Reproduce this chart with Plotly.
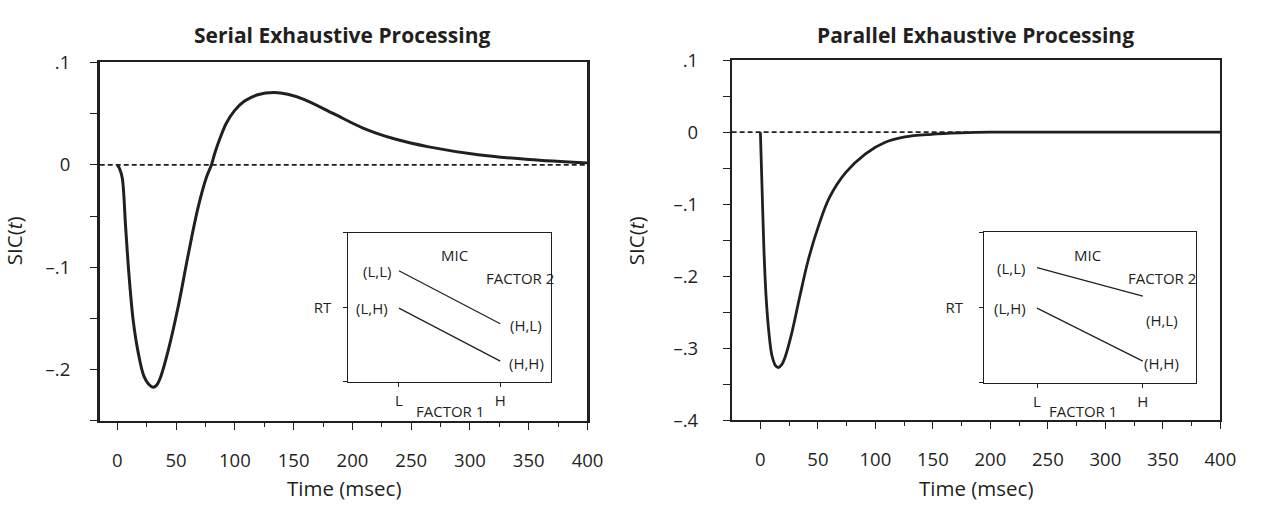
import plotly.graph_objects as go

# ---------------- data ----------------
serial_t = [0, 2, 4.2, 7, 9.8, 13.5, 17.7, 22.5, 26.5, 30.3, 33.5, 36.5, 43.5, 52, 60.4, 68.8,
            75.8, 80, 82.9, 87.1, 92.7, 99.7, 108.2, 119.4, 133.4, 145, 158.7, 184, 209, 237, 265,
            307, 350, 400]
serial_sic = [0, -0.004, -0.013, -0.060, -0.106, -0.152, -0.183, -0.206, -0.214, -0.217, -0.215,
              -0.208, -0.180, -0.137, -0.087, -0.041, -0.012, 0.0, 0.0114, 0.0253, 0.0407, 0.053,
              0.0623, 0.0685, 0.0707, 0.069, 0.064, 0.050, 0.036, 0.025, 0.0176, 0.0099, 0.0053,
              0.002]

parallel_t = [0, 1.5, 3, 5, 7.5, 10, 13, 15.7, 18.5, 21.4, 27, 34.3, 41.4, 50, 60, 74.3, 91.4,
              108.6, 125.7, 148.6, 174, 200, 250, 300, 350, 400]
parallel_sic = [0, -0.08, -0.16, -0.23, -0.28, -0.31, -0.324, -0.327, -0.323, -0.313, -0.281,
                -0.228, -0.179, -0.133, -0.091, -0.056, -0.030, -0.014, -0.0066, -0.003,
                -0.001, 0, 0, 0, 0, 0]

x_ticks = [0, 50, 100, 150, 200, 250, 300, 350, 400]
x_minor = [25, 75, 125, 175, 225, 275, 325, 375]
serial_yticks = [0.1, 0, -0.1, -0.2]
serial_ylabels = [".1", "0", "–.1", "–.2"]
serial_yminor = [0.05, -0.05, -0.15, -0.25]
parallel_yticks = [0.1, 0, -0.1, -0.2, -0.3, -0.4]
parallel_ylabels = [".1", "0", "–.1", "–.2", "–.3", "–.4"]
parallel_yminor = [0.05, -0.05, -0.15, -0.25, -0.35]

# inset interaction-contrast schematics (factor-1 level L=1, H=2; RT arbitrary units)
factor1_levels = [1, 2]
factor1_labels = ["L", "H"]
serial_rt_f2_low = [7.45, 3.9]
serial_rt_f2_high = [4.95, 1.4]
parallel_rt_f2_low = [7.64, 5.74]
parallel_rt_f2_high = [4.95, 1.43]

INK = "#231f20"
FONT = "Open Sans"

fig = go.Figure()

fig.add_trace(go.Scatter(x=serial_t, y=serial_sic, mode="lines",
                         line=dict(color=INK, width=3, shape="spline", smoothing=1.0),
                         xaxis="x", yaxis="y", showlegend=False))
fig.add_trace(go.Scatter(x=parallel_t, y=parallel_sic, mode="lines",
                         line=dict(color=INK, width=2.8, shape="spline", smoothing=1.0),
                         xaxis="x2", yaxis="y2", showlegend=False))

for ys, xa, ya in [(serial_rt_f2_low, "x3", "y3"), (serial_rt_f2_high, "x3", "y3"),
                   (parallel_rt_f2_low, "x4", "y4"), (parallel_rt_f2_high, "x4", "y4")]:
    fig.add_trace(go.Scatter(x=factor1_levels, y=ys, mode="lines", line=dict(color=INK, width=1.2),
                             xaxis=xa, yaxis=ya, showlegend=False))

# dashed zero reference lines
for xr, yr in [("x", "y"), ("x2", "y2")]:
    fig.add_shape(type="line", xref=f"{xr} domain", yref=yr, x0=0, x1=1, y0=0, y1=0,
                  line=dict(color=INK, width=1.6, dash="5px,3px"), layer="below")


def main_xaxis(domain, rng, anchor, lw):
    return dict(domain=domain, range=rng, anchor=anchor, tickmode="array", tickvals=x_ticks,
                ticks="outside", ticklen=7, tickwidth=1.2, tickcolor=INK, showline=True, mirror=True,
                linecolor=INK, linewidth=lw, showgrid=False, zeroline=False, ticklabelstandoff=15,
                tickfont=dict(size=18.5, color=INK, family=FONT),
                minor=dict(tickmode="array", tickvals=x_minor, ticks="outside", ticklen=4, tickwidth=1.2,
                           tickcolor=INK, showgrid=False))


def main_yaxis(domain, rng, anchor, lw, vals, labels, minor, standoff):
    return dict(domain=domain, range=rng, anchor=anchor, tickmode="array", tickvals=vals, ticktext=labels,
                ticks="outside", ticklen=7, tickwidth=1.2, tickcolor=INK, showline=True, mirror=True,
                linecolor=INK, linewidth=lw, showgrid=False, zeroline=False, ticklabelstandoff=standoff,
                tickfont=dict(size=18.5, color=INK, family=FONT),
                minor=dict(tickmode="array", tickvals=minor, ticks="outside", ticklen=7, tickwidth=1.2,
                           tickcolor=INK, showgrid=False))


def inset_xaxis(domain, anchor):
    return dict(domain=domain, range=[0.5, 2.5], anchor=anchor, tickmode="array", tickvals=factor1_levels,
                ticktext=factor1_labels, ticks="outside", ticklen=4, tickwidth=1, tickcolor=INK,
                showline=True, mirror=True, linecolor=INK, linewidth=1, showgrid=False, zeroline=False,
                ticklabelstandoff=1, tickfont=dict(size=15, color=INK, family=FONT))


def inset_yaxis(domain, anchor, standoff):
    return dict(domain=domain, range=[0, 10], anchor=anchor, tickmode="array", tickvals=[0, 5, 10],
                ticktext=["", "RT", ""], ticks="outside", ticklen=4, tickwidth=1, tickcolor=INK,
                showline=True, mirror=True, linecolor=INK, linewidth=1, showgrid=False, zeroline=False,
                ticklabelstandoff=standoff, tickfont=dict(size=15, color=INK, family=FONT))


W, H = 1267, 509
fig.update_layout(
    width=W, height=H, autosize=False, margin=dict(l=0, r=0, t=0, b=0),
    paper_bgcolor="white", plot_bgcolor="rgba(0,0,0,0)",
    font=dict(family=FONT, color=INK),
    xaxis=main_xaxis([101 / W, 595 / W], [-15, 400], "y", 2),
    yaxis=main_yaxis([1 - 428 / H, 1 - 51 / H], [-0.25, 0.1], "x", 2.6, serial_yticks, serial_ylabels, serial_yminor, 16),
    xaxis2=main_xaxis([741 / W, 1236 / W], [-25, 400], "y2", 1.5),
    yaxis2=main_yaxis([1 - 427 / H, 1 - 48.6 / H], [-0.4, 0.1], "x2", 1.5, parallel_yticks, parallel_ylabels, parallel_yminor, 21),
    xaxis3=inset_xaxis([352.7 / W, 558 / W], "y3"),
    yaxis3=inset_yaxis([1 - 387 / H, 1 - 230 / H], "x3", 9),
    xaxis4=inset_xaxis([996.7 / W, 1211 / W], "y4"),
    yaxis4=inset_yaxis([1 - 387.7 / H, 1 - 229.3 / H], "x4", 13),
)

ann = []


def paper_text(text, px, py, size, angle=0):
    return dict(text=text, x=px / W, y=1 - py / H, xref="paper", yref="paper", xanchor="center",
                yanchor="middle", textangle=angle, showarrow=False,
                font=dict(size=size, family=FONT, color=INK))


# panel titles
ann.append(paper_text("<b>Serial Exhaustive Processing</b>", 346, 22, 21))
ann.append(paper_text("<b>Parallel Exhaustive Processing</b>", 988, 22, 21))
# axis titles
for cx in [348, 988]:
    ann.append(paper_text("Time (msec)", cx, 498, 20.5))
for cx in [14, 644]:
    ann.append(paper_text("SIC(<i>t</i>)", cx, 238, 20.5, -90))
# FACTOR 1 labels under insets
for cx in [455.5, 1097]:
    ann.append(paper_text("FACTOR 1", cx, 418, 15))

# inset labels (inset data coordinates)
inset_labels = {
    ("x3", "y3"): [("MIC", 1.545, 8.54), ("(L,L)", 0.783, 7.45), ("(L,H)", 0.734, 4.97),
                   ("FACTOR 2", 2.19, 6.94), ("(H,L)", 2.256, 3.84), ("(H,H)", 2.256, 1.29)],
    ("x4", "y4"): [("MIC", 1.48, 8.5), ("(L,L)", 0.755, 7.64), ("(L,H)", 0.743, 4.95),
                   ("FACTOR 2", 2.18, 6.93), ("(H,L)", 2.18, 4.17), ("(H,H)", 2.18, 1.33)],
}
for (xr, yr), items in inset_labels.items():
    for txt, x, y in items:
        ann.append(dict(text=txt, x=x, y=y, xref=xr, yref=yr, showarrow=False, xanchor="center",
                        yanchor="middle", font=dict(size=15, family=FONT, color=INK)))

fig.update_layout(annotations=ann)

fig.write_html("out.html")
